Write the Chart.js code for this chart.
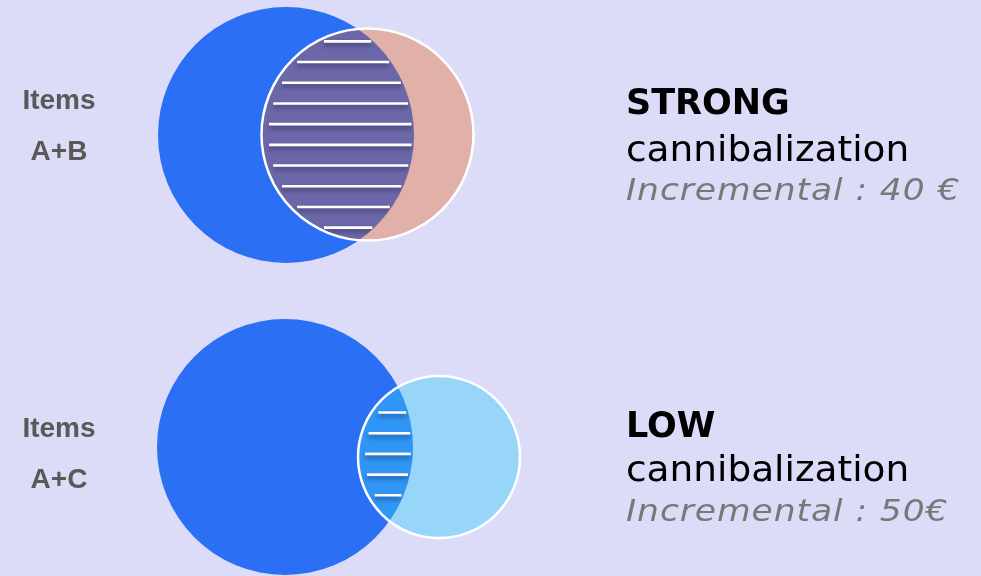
<!DOCTYPE html>
<html>
<head>
<meta charset="utf-8">
<script src="https://cdn.jsdelivr.net/npm/chart.js@4"></script>
<style>
  body { margin: 0; background: #dcdcf9; }
  #wrap { position: relative; width: 981px; height: 576px; overflow: hidden; }
  /* canvas is bigger than the view so the bubble overflow padding falls outside */
  #venn { position: absolute; left: -130px; top: -130px; }
  .items { position: absolute; left: 0; width: 118px; text-align: center; font: bold 28px "Liberation Sans", Arial, sans-serif; line-height: 1; color: #595959; }
  .txt { position: absolute; left: 626px; font-family: "DejaVu Sans", sans-serif; line-height: 1; white-space: nowrap; transform-origin: 0 0; }
  .level { font-size: 35px; font-weight: bold; color: #000; }
  .canni { font-size: 36px; color: #000; transform: scaleX(1.04); }
  .incr { font-size: 30px; font-style: italic; color: #787878; letter-spacing: 0.8px; transform: scaleX(1.15); }
</style>
</head>
<body>
<div id="wrap">
  <canvas id="venn" width="1241" height="836"></canvas>
</div>
<script>
// item pairs and their labels
const pairs = ['A+B', 'A+C'];
const levels = ['STRONG', 'LOW'];
const incremental = ['40 €', '50€'];

// main item A circle (x, y, radius in chart units)
const mainX = [286, 285];
const mainY = [135, 447];
const mainR = [128, 128];

// second item circle
const otherX = [367.5, 439];
const otherY = [134.5, 457];
const otherR = [106, 81];

const mainColor = '#2b6ff5';
const otherColors = ['#e0b0a9', '#97d6f9'];
const lensColors = ['#6c67a8', '#3096f5'];
const hatchPhase = [0.5, -0.15];
const PAD = 130;

const lensPlugin = {
  id: 'lens',
  afterDatasetDraw(chart, args) {
    if (args.index !== 1) return;
    const big = chart.getDatasetMeta(0).data;
    const small = chart.getDatasetMeta(1).data;
    const ctx = chart.ctx;
    big.forEach((a, i) => {
      const b = small[i];
      const ra = a.options.radius, rb = b.options.radius;
      ctx.save();
      ctx.beginPath(); ctx.arc(a.x, a.y, ra, 0, Math.PI * 2); ctx.clip();
      ctx.beginPath(); ctx.arc(b.x, b.y, rb, 0, Math.PI * 2); ctx.clip();
      ctx.fillStyle = lensColors[i];
      ctx.fillRect(b.x - rb, b.y - rb, rb * 2, rb * 2);

      // horizontal hatch lines
      ctx.strokeStyle = '#ffffff';
      ctx.lineWidth = 2.6;
      ctx.shadowColor = 'rgba(20,20,60,0.5)';
      ctx.shadowOffsetY = 3;
      ctx.shadowBlur = 4;
      const step = 20.7;
      for (let k = -12; k <= 12; k++) {
        const y = b.y + (k + hatchPhase[i]) * step;
        const db = rb * rb - (y - b.y) ** 2;
        const da = ra * ra - (y - a.y) ** 2;
        if (db <= 0 || da <= 0) continue;
        const xl = b.x - Math.sqrt(db) + 7;
        const xr = a.x + Math.sqrt(da) - 2;
        if (xr - xl < 8) continue;
        ctx.beginPath();
        ctx.moveTo(xl, y);
        ctx.lineTo(xr, y);
        ctx.stroke();
      }
      ctx.restore();
    });
  }
};

const mainPoints = pairs.map((p, i) => ({ x: mainX[i], y: mainY[i], r: mainR[i] }));
const otherPoints = pairs.map((p, i) => ({ x: otherX[i], y: otherY[i], r: otherR[i] }));

new Chart(document.getElementById('venn'), {
  type: 'bubble',
  data: {
    datasets: [
      { label: 'A', data: mainPoints, backgroundColor: mainColor, borderWidth: 0, order: 3, clip: false },
      { label: 'other', data: otherPoints, backgroundColor: otherColors, borderWidth: 0, order: 2, clip: false },
      { label: 'outline', data: otherPoints, backgroundColor: 'rgba(0,0,0,0)', borderColor: '#ffffff', borderWidth: 2.5, order: 1, clip: false }
    ]
  },
  options: {
    responsive: false,
    animation: false,
    events: [],
    layout: { padding: PAD },
    plugins: { legend: { display: false }, tooltip: { enabled: false } },
    scales: {
      x: { type: 'linear', min: 0, max: 981, display: false },
      y: { type: 'linear', min: 0, max: 576, reverse: true, display: false }
    }
  },
  plugins: [lensPlugin]
});

// labels
const wrap = document.getElementById('wrap');
const itemTops = [[86, 137], [414, 465]];
const textTops = [[85, 131, 175], [408, 451, 496]];
const addDiv = (cls, text, top) => {
  const d = document.createElement('div');
  d.className = cls;
  d.textContent = text;
  d.style.top = top + 'px';
  wrap.appendChild(d);
};
pairs.forEach((p, i) => {
  addDiv('items', 'Items', itemTops[i][0]);
  addDiv('items', p, itemTops[i][1]);
  addDiv('txt level', levels[i], textTops[i][0]);
  addDiv('txt canni', 'cannibalization', textTops[i][1]);
  addDiv('txt incr', 'Incremental : ' + incremental[i], textTops[i][2]);
});
</script>
</body>
</html>
